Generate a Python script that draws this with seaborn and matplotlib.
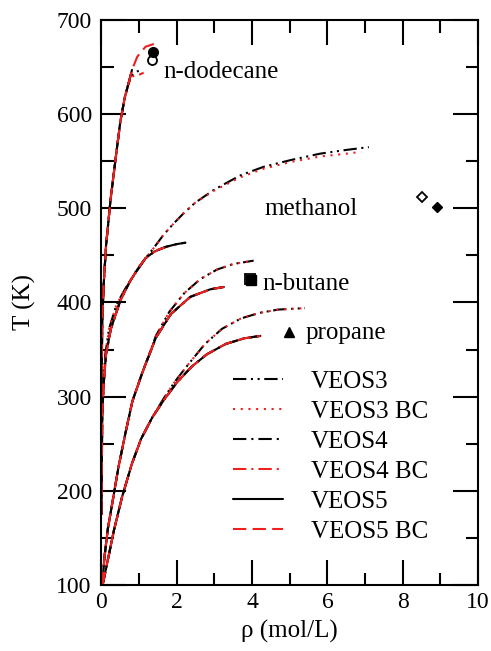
import pandas as pd
import seaborn as sns
import matplotlib.pyplot as plt
from matplotlib.ticker import MultipleLocator

# propane
propane_rho_v3 = [0.03, 0.15, 0.33, 0.55, 0.81, 1.05, 1.35, 1.65, 1.95, 2.3, 2.75, 3.2, 3.7, 4.2, 4.7, 5.4]
propane_T_v3 = [100, 123, 158, 194, 229, 255, 278, 298, 316, 334, 356, 372, 383, 389, 392.5, 394]
propane_rho_v45 = [0.03, 0.15, 0.33, 0.55, 0.81, 1.05, 1.35, 1.65, 2.0, 2.4, 2.8, 3.3, 3.8, 4.22]
propane_T_v45 = [100, 123, 158, 194, 229, 255, 278, 296, 315, 332, 345, 356, 362, 364.5]

# n-butane
butane_rho_v3 = [0.02, 0.08, 0.17, 0.3, 0.45, 0.64, 0.82, 1.08, 1.45, 1.8, 2.2, 2.63, 3.07, 3.51, 4.04]
butane_T_v3 = [100, 130, 160, 190, 225, 262, 295, 325, 365, 390, 410, 425, 435, 441, 444.4]
butane_rho_v45 = [0.02, 0.08, 0.17, 0.3, 0.45, 0.64, 0.82, 1.08, 1.45, 1.85, 2.36, 2.89, 3.25]
butane_T_v45 = [100, 130, 160, 190, 225, 262, 295, 325, 363, 388, 406, 414, 416.5]

# methanol
methanol_rho_v3 = [0.0, 0.02, 0.05, 0.1, 0.2, 0.4, 0.65, 0.9, 1.17, 1.39, 1.65, 1.92, 2.18, 2.49,
                   3.0, 3.69, 4.3, 5.0, 5.8, 6.5, 7.1]
methanol_T_v3 = [175, 280, 314, 345, 372, 398, 416, 431, 447, 458, 472, 484, 494.7, 506,
                 520, 535, 544, 551, 558, 562, 565]
methanol_rho_v3bc = [0.0, 0.02, 0.05, 0.1, 0.2, 0.4, 0.65, 0.9, 1.17, 1.39, 1.65, 1.92, 2.18, 2.49,
                     3.0, 3.69, 4.3, 5.0, 5.8, 6.5, 6.9]
methanol_T_v3bc = [175, 280, 314, 345, 372, 398, 416, 431, 447, 458, 472, 484, 494.7, 506,
                   519, 533, 542, 549, 555, 558, 560]
methanol_rho_v45 = [0.0, 0.02, 0.06, 0.12, 0.25, 0.5, 0.75, 0.95, 1.17, 1.4, 1.7, 2.0, 2.23]
methanol_T_v45 = [175, 280, 314, 345, 372, 402, 422, 435, 447, 454, 459, 462, 463.5]
methanol_rho_v45bc = [0.0, 0.02, 0.06, 0.12, 0.25, 0.5, 0.75, 0.95, 1.17, 1.3, 1.5, 1.74]
methanol_T_v45bc = [175, 280, 314, 345, 372, 402, 422, 435, 447, 451, 456, 459.2]

# n-dodecane
dodecane_rho_v3 = [0.0, 0.02, 0.06, 0.12, 0.24, 0.37, 0.5, 0.62, 0.72, 0.8]
dodecane_T_v3 = [300, 380, 420, 460, 509, 551, 592, 618, 633, 645]
dodecane_rho_v4 = [0.0, 0.02, 0.06, 0.12, 0.24, 0.37, 0.5, 0.62, 0.72, 0.85, 0.99]
dodecane_T_v4 = [300, 380, 420, 460, 509, 551, 592, 618, 633, 644, 646]
dodecane_rho_v4bc = [0.0, 0.02, 0.06, 0.12, 0.24, 0.37, 0.5, 0.62, 0.72, 0.8, 0.95, 1.12]
dodecane_T_v4bc = [300, 380, 420, 460, 509, 551, 592, 618, 633, 640, 641, 644]
dodecane_rho_v5 = [0.0, 0.02, 0.06, 0.12, 0.24, 0.37, 0.5, 0.62, 0.72, 0.81]
dodecane_T_v5 = [300, 380, 420, 460, 509, 551, 592, 618, 633, 647]
dodecane_rho_v5bc = [0.0, 0.02, 0.06, 0.12, 0.24, 0.37, 0.5, 0.62, 0.72, 0.81, 0.95, 1.17, 1.39]
dodecane_T_v5bc = [300, 380, 420, 460, 509, 551, 592, 618, 633, 647, 661, 671.6, 674.5]

models = ["VEOS3", "VEOS3 BC", "VEOS4", "VEOS4 BC", "VEOS5", "VEOS5 BC"]
model_curves = {
    "VEOS3": [(propane_rho_v3, propane_T_v3), (butane_rho_v3, butane_T_v3),
              (methanol_rho_v3, methanol_T_v3), (dodecane_rho_v3, dodecane_T_v3)],
    "VEOS3 BC": [(propane_rho_v3, propane_T_v3), (butane_rho_v3, butane_T_v3),
                 (methanol_rho_v3bc, methanol_T_v3bc), (dodecane_rho_v3, dodecane_T_v3)],
    "VEOS4": [(propane_rho_v45, propane_T_v45), (butane_rho_v45, butane_T_v45),
              (methanol_rho_v45, methanol_T_v45), (dodecane_rho_v4, dodecane_T_v4)],
    "VEOS4 BC": [(propane_rho_v45, propane_T_v45), (butane_rho_v45, butane_T_v45),
                 (methanol_rho_v45bc, methanol_T_v45bc), (dodecane_rho_v4bc, dodecane_T_v4bc)],
    "VEOS5": [(propane_rho_v45, propane_T_v45), (butane_rho_v45, butane_T_v45),
              (methanol_rho_v45, methanol_T_v45), (dodecane_rho_v5, dodecane_T_v5)],
    "VEOS5 BC": [(propane_rho_v45, propane_T_v45), (butane_rho_v45, butane_T_v45),
                 (methanol_rho_v45bc, methanol_T_v45bc), (dodecane_rho_v5bc, dodecane_T_v5bc)],
}

# critical points (open = experiment, filled = model)
crit_open_rho = [1.35, 8.5, 3.94]
crit_open_T = [657.5, 512.3, 425]
crit_open_marker = ["o", "D", "s"]
crit_fill_rho = [1.38, 8.9, 3.96, 4.99]
crit_fill_T = [666, 501.7, 424, 369]
crit_fill_marker = ["o", "D", "s", "^"]

names = ["n-dodecane", "methanol", "n-butane", "propane"]
name_rho = [1.64, 4.32, 4.27, 5.41]
name_T = [645, 499.5, 420, 368]

red = "#ee2020"
palette = {"VEOS3": "black", "VEOS3 BC": red, "VEOS4": "black",
           "VEOS4 BC": red, "VEOS5": "black", "VEOS5 BC": red}
dashes = {"VEOS3": (6.4, 2.2, 1, 2.2, 1, 2.2), "VEOS3 BC": (1, 2.7),
          "VEOS4": (6.4, 2.4, 1, 2.4), "VEOS4 BC": (6.4, 2.4, 1, 2.4),
          "VEOS5": "", "VEOS5 BC": (6.4, 3)}

rows = []
for m in models:
    for i, (rr, tt) in enumerate(model_curves[m]):
        for r, t in zip(rr, tt):
            rows.append({"rho": r, "T": t, "model": m, "curve": i})
df = pd.DataFrame(rows)

sns.set_theme(style="ticks", rc={
    "xtick.direction": "in", "ytick.direction": "in",
    "xtick.top": True, "ytick.right": True,
    "xtick.major.size": 18, "ytick.major.size": 18,
    "xtick.minor.size": 9, "ytick.minor.size": 9,
    "xtick.major.width": 1.5, "ytick.major.width": 1.5,
    "xtick.minor.width": 1.5, "ytick.minor.width": 1.5,
    "axes.linewidth": 1.5, "lines.linewidth": 1.5,
    "xtick.major.pad": 5, "ytick.major.pad": 7,
    "text.color": "black", "axes.labelcolor": "black", "axes.edgecolor": "black",
    "xtick.color": "black", "ytick.color": "black",
})
plt.rcParams["font.family"] = ["Liberation Serif", "DejaVu Serif"]

fig = plt.figure(figsize=(4.91, 6.51), dpi=100)
ax = fig.add_axes([0.2067, 0.1014, 0.9735 - 0.2067, 0.9693 - 0.1014])

sns.lineplot(data=df, x="rho", y="T", hue="model", style="model", units="curve",
             estimator=None, sort=False, palette=palette, dashes=dashes,
             hue_order=models, style_order=models, linewidth=1.5, ax=ax)

for r, t, mk in zip(crit_open_rho, crit_open_T, crit_open_marker):
    ax.plot(r, t, marker=mk, ms=6.5 if mk != "D" else 5.5, mfc="white", mec="black", mew=1.3)
for r, t, mk in zip(crit_fill_rho, crit_fill_T, crit_fill_marker):
    ax.plot(r, t, marker=mk, ms=7 if mk != "D" else 5.5, mfc="black", mec="black")

for s, r, t in zip(names, name_rho, name_T):
    ax.text(r, t, s, fontsize=18, va="center", ha="left")

ax.set_xlim(0, 10)
ax.set_ylim(100, 700)
ax.xaxis.set_major_locator(MultipleLocator(2))
ax.xaxis.set_minor_locator(MultipleLocator(1))
ax.yaxis.set_major_locator(MultipleLocator(100))
ax.yaxis.set_minor_locator(MultipleLocator(50))
ax.tick_params(labelsize=17)
ax.set_xlabel("ρ (mol/L)", fontsize=18, labelpad=5)
ax.set_ylabel("T (K)", fontsize=18, labelpad=15)

sns.move_legend(ax, "upper left", bbox_to_anchor=(0.35, 0.38), frameon=False,
                fontsize=18, handlelength=2.0, handletextpad=1.1, labelspacing=0.3,
                borderpad=0, borderaxespad=0)
ax.get_legend().set_title(None)

fig.savefig("out.png", dpi=100)
